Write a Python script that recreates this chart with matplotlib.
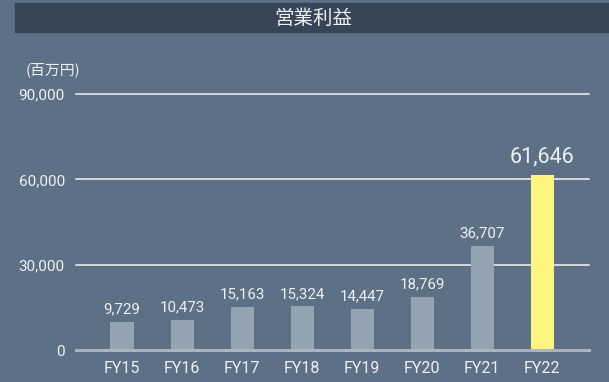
import matplotlib
matplotlib.use("Agg")
import matplotlib.pyplot as plt
from matplotlib.patches import Rectangle

years = ["FY15", "FY16", "FY17", "FY18", "FY19", "FY20", "FY21", "FY22"]
operating_income = [9729, 10473, 15163, 15324, 14447, 18769, 36707, 61646]
y_ticks = [0, 30000, 60000, 90000]
title = "営業利益"
unit_label = "(百万円)"

BG = "#5d7085"
BAR_BAR = "#374656"
BAR_GREY = "#93a3b1"
BAR_HIGHLIGHT = "#fff57f"
TEXT = "#eef1f3"

W, H = 609, 382
fig = plt.figure(figsize=(W / 100, H / 100), dpi=100)
fig.patch.set_facecolor(BG)

num_font = ["Roboto", "DejaVu Sans"]
cjk_font = ["Noto Sans CJK JP", "DejaVu Sans"]

# title band
fig.patches.append(Rectangle((15 / W, 1 - 32 / H), (W - 15) / W, 29 / H,
                             transform=fig.transFigure, color=BAR_BAR, zorder=0))
fig.text(313 / W, 1 - 18 / H, title, ha="center", va="center", color=TEXT,
         fontsize=14, family=cjk_font)
fig.text(26 / W, 1 - 70 / H, unit_label, ha="left", va="center", color=TEXT,
         fontsize=10.7, family=cjk_font)

ax = fig.add_axes([76 / W, 32 / H, 513 / W, 256 / H])
ax.set_facecolor("none")
ax.set_xlim(-0.767, 7.78)
ax.set_ylim(0, 90000)

for v in y_ticks[1:]:
    ax.axhline(v, color="#f2f4f6", lw=1.1, zorder=1, clip_on=False)
ax.axhline(0, color="#a9b4bf", lw=2.2, zorder=3, clip_on=False)

colors = [BAR_GREY] * (len(years) - 1) + [BAR_HIGHLIGHT]
x = range(len(years))
ax.bar(x, operating_income, width=0.385, color=colors, zorder=2)

for i, v in enumerate(operating_income):
    last = i == len(years) - 1
    ax.annotate(f"{v:,}", (i, v), xytext=(0, 5.5 if last else 4),
                textcoords="offset points", ha="center", va="bottom",
                color=TEXT, fontsize=15.5 if last else 10.8, family=num_font)

ax.set_xticks(list(x))
ax.set_xticklabels(years, family=num_font, fontsize=11.5, color=TEXT)
ax.set_yticks(y_ticks)
ax.set_yticklabels([f"{v:,}" for v in y_ticks], family=num_font, fontsize=11, color=TEXT)
ax.tick_params(axis="both", length=0)
ax.tick_params(axis="x", pad=8)
ax.tick_params(axis="y", pad=8)
for s in ax.spines.values():
    s.set_visible(False)

fig.savefig("out.png", dpi=100, facecolor=BG)
